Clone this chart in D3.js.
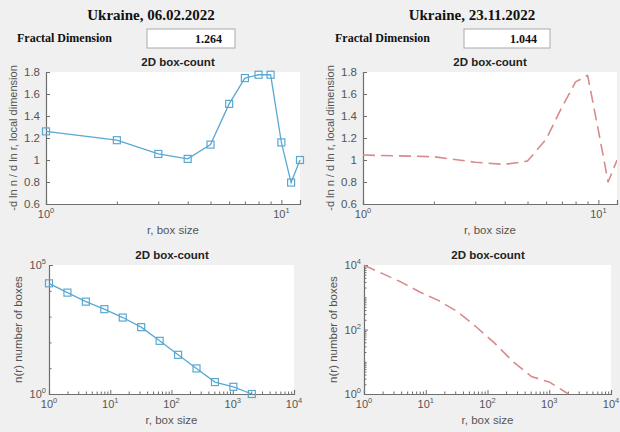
<!DOCTYPE html>
<html><head><meta charset="utf-8">
<script src="https://cdn.jsdelivr.net/npm/d3@7"></script>
<style>
html,body{margin:0;padding:0;background:#f0f0f0;}
svg{display:block;}
</style></head>
<body>
<script>
// ---- data ----
const titles = ["Ukraine, 06.02.2022", "Ukraine, 23.11.2022"];
const fractalDims = ["1.264", "1.044"];
const localR = [1,2,3,4,5,6,7,8,9,10,11,12];
const localDimA = [1.26,1.18,1.055,1.01,1.14,1.51,1.745,1.775,1.775,1.16,0.795,1.0];
const localDimB = [1.045,1.03,0.98,0.96,0.99,1.19,1.48,1.71,1.77,1.27,0.80,1.0];
const boxSizes = [1,2,4,8,16,32,64,128,256,512,1024,2048];
const boxCountA = [19500,8500,3800,1940,920,390,115,33,9.8,2.9,1.9,1];
const boxCountB = [9800,5400,2950,1450,800,365,126,39,10.3,3.5,2.3,1];
const localYTicks = [0.6,0.8,1,1.2,1.4,1.6,1.8];
const subTitle = "2D box-count";
const xLabel = "r, box size";
const yLabelLocal = "-d ln n / d ln r, local dimension";
const yLabelCount = "n(r) number of boxes";

const W=620,H=432;
const svg=d3.select("body").append("svg").attr("width",W).attr("height",H);
svg.append("rect").attr("width",W).attr("height",H).attr("fill","#f0f0f0");

const axisCol="#6e6e6e", textCol="#555", blue="#5aa8d2", red="#d98a8e";
const sansF="Arial, 'Liberation Sans', sans-serif";
const serifF="'Times New Roman', 'Liberation Serif', serif";

// headers
const headers=[{cx:151,boxX:147,boxW:88,labX:17},{cx:472,boxX:464,boxW:86,labX:335}];
headers.forEach((h,i)=>{
  svg.append("text").attr("x",h.cx).attr("y",20).attr("text-anchor","middle")
    .attr("font-family",serifF).attr("font-weight","bold").attr("font-size",15).attr("fill","#111").text(titles[i]);
  svg.append("text").attr("x",h.labX).attr("y",42).attr("font-family",serifF).attr("font-weight","bold")
    .attr("font-size",12).attr("fill","#111").text("Fractal Dimension");
  svg.append("rect").attr("x",h.boxX).attr("y",29).attr("width",h.boxW).attr("height",19)
    .attr("fill","#fff").attr("stroke","#aaa").attr("stroke-width",1);
  svg.append("text").attr("x",h.boxX+h.boxW-13).attr("y",43).attr("text-anchor","end")
    .attr("font-family",serifF).attr("font-weight","bold").attr("font-size",12).attr("fill","#111").text(fractalDims[i]);
});

function powLabel(sel,x,y,exp,anchor){
  const t=sel.append("text").attr("x",x).attr("y",y).attr("text-anchor",anchor)
    .attr("font-family",sansF).attr("font-size",11).attr("fill",textCol);
  t.append("tspan").text("10");
  t.append("tspan").attr("dy",-5).attr("font-size",7.5).text(exp);
}

function panel(o){
  const g=svg.append("g");
  const x=d3.scaleLog().domain(o.xdom).range([o.l,o.r]);
  const y=(o.ylog?d3.scaleLog():d3.scaleLinear()).domain(o.ydom).range([o.b,o.t]);
  g.append("rect").attr("x",o.l).attr("y",o.t).attr("width",o.r-o.l).attr("height",o.b-o.t).attr("fill","#fff");
  // title
  g.append("text").attr("x",o.tx).attr("y",o.t-6).attr("text-anchor","middle").attr("font-family",sansF)
    .attr("font-weight","bold").attr("font-size",11.5).attr("fill","#222").text(subTitle);
  // x axis
  const xa=d3.axisBottom(x).tickValues(o.xMajor).tickSize(-4).tickFormat("");
  const gx=g.append("g").attr("transform",`translate(0,${o.b})`).call(xa);
  const xm=d3.axisBottom(x).tickValues(o.xMinor).tickSize(-2.5).tickFormat("");
  const gxm=g.append("g").attr("transform",`translate(0,${o.b})`).call(xm);
  gxm.select(".domain").remove();
  [gx,gxm].forEach(s=>{s.selectAll("line").attr("stroke",axisCol);s.select(".domain").attr("stroke",axisCol);});
  o.xMajor.forEach(v=>powLabel(g,x(v),o.b+14,Math.round(Math.log10(v)),"middle"));
  // y axis
  let gy;
  if(o.ylog){
    gy=g.append("g").attr("transform",`translate(${o.l},0)`).call(d3.axisLeft(y).tickValues(o.yMajor).tickSize(-4).tickFormat(""));
    o.yLabels.forEach(v=>powLabel(g,o.l-3,y(v)+4,Math.round(Math.log10(v)),"end"));
    if(o.yMinor){
      const gym=g.append("g").attr("transform",`translate(${o.l},0)`).call(d3.axisLeft(y).tickValues(o.yMinor).tickSize(-2.5).tickFormat(""));
      gym.select(".domain").remove(); gym.selectAll("line").attr("stroke",axisCol);
    }
  } else {
    gy=g.append("g").attr("transform",`translate(${o.l},0)`).call(d3.axisLeft(y).tickValues(o.yMajor).tickSize(-4).tickFormat(d3.format("~g")).tickPadding(6));
    gy.selectAll("text").attr("font-family",sansF).attr("font-size",11.5).attr("fill",textCol);
  }
  gy.selectAll("line").attr("stroke",axisCol); gy.select(".domain").attr("stroke",axisCol);
  g.selectAll(".domain").attr("stroke-width",1.2);
  // labels
  g.append("text").attr("x",(o.l+o.r)/2).attr("y",o.b+30).attr("text-anchor","middle").attr("font-family",sansF)
    .attr("font-size",11.5).attr("fill",textCol).text(xLabel);
  g.append("text").attr("transform",`translate(${o.ylx},${(o.t+o.b)/2}) rotate(-90)`).attr("text-anchor","middle")
    .attr("font-family",sansF).attr("font-size",o.ylfs).attr("fill",textCol).text(o.ylab);
  // data
  const pts=o.xs.map((v,i)=>[v,o.ys[i]]);
  const clipId="c"+Math.random().toString(36).slice(2);
  g.append("clipPath").attr("id",clipId).append("rect").attr("x",o.l-5).attr("y",o.t-5).attr("width",o.r-o.l+5).attr("height",o.b-o.t+10);
  const line=d3.line().x(d=>x(d[0])).y(d=>y(d[1]));
  if(o.style==="marker"){
    g.append("path").datum(pts).attr("d",line).attr("fill","none").attr("stroke",blue).attr("stroke-width",1.3);
    g.selectAll(null).data(pts).enter().append("rect")
      .attr("x",d=>x(d[0])-3.5).attr("y",d=>y(d[1])-3.5).attr("width",7).attr("height",7)
      .attr("fill","none").attr("stroke",blue).attr("stroke-width",1.2);
  } else {
    g.append("path").datum(pts).attr("d",line).attr("fill","none").attr("stroke",red).attr("stroke-width",1.6)
      .attr("stroke-dasharray","12,6").attr("stroke-linejoin","round").attr("clip-path",`url(#${clipId})`);
  }
}

const minorLocal=[2,3,4,5,6,7,8,9];
const minorLog=[];
for(let e=0;e<4;e++)for(let k=2;k<=9;k++)minorLog.push(k*Math.pow(10,e));

panel({l:46,r:300,t:72,b:204,tx:178,xdom:[1,12],ydom:[0.6,1.8],xMajor:[1,10],xMinor:minorLocal,yMajor:localYTicks,
  xs:localR,ys:localDimA,style:"marker",ylab:yLabelLocal,ylx:17,ylfs:11});
panel({l:363,r:617,t:72,b:204,tx:490,xdom:[1,12],ydom:[0.6,1.8],xMajor:[1,10],xMinor:minorLocal,yMajor:localYTicks,
  xs:localR,ys:localDimB,style:"dash",ylab:yLabelLocal,ylx:334,ylfs:11});
panel({l:49,r:294,t:265,b:394,tx:172,xdom:[1,1e4],ydom:[1,1e5],ylog:true,xMajor:[1,10,100,1000,10000],xMinor:minorLog,
  yMajor:[1,1e5],yLabels:[1,1e5],yMinor:[10,100,1000,10000],
  xs:boxSizes,ys:boxCountA,style:"marker",ylab:yLabelCount,ylx:22,ylfs:11.5});
panel({l:364,r:611,t:265,b:394,tx:488,xdom:[1,1e4],ydom:[1,1e4],ylog:true,xMajor:[1,10,100,1000,10000],xMinor:minorLog,
  yMajor:[1,100,1e4],yLabels:[1,100,1e4],yMinor:[2,3,4,5,6,7,8,9,10,20,30,40,50,60,70,80,90,200,300,400,500,600,700,800,900,1000,2000,3000,4000,5000,6000,7000,8000,9000],
  xs:boxSizes,ys:boxCountB,style:"dash",ylab:yLabelCount,ylx:337,ylfs:11.5});
</script>
</body></html>
